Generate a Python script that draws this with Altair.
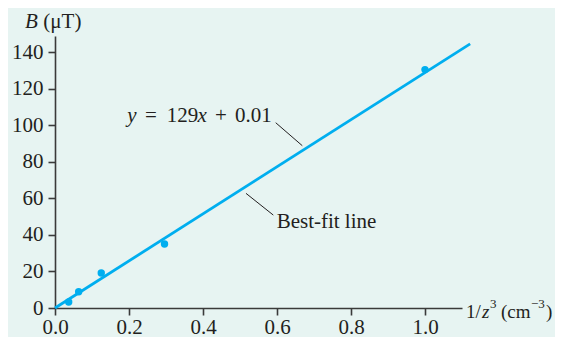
import altair as alt
import pandas as pd

# measured data
inv_z3 = [0.037, 0.064, 0.125, 0.296, 1.0]
b_ut = [3.3, 8.9, 19.2, 35.1, 130.6]

# best-fit line endpoints (y = 129x + 0.01)
fit_x = [0.0, 1.122]
fit_y = [0.01, 144.7]

x_ticks = [0.0, 0.2, 0.4, 0.6, 0.8, 1.0]
y_ticks = [0, 20, 40, 60, 80, 100, 120, 140]

# annotation tokens (data coordinates)
eq_text = ["y", "=", "129", "x", "+", "0.01"]
eq_x = [0.1954, 0.2432, 0.3019, 0.385, 0.4324, 0.4865]
eq_italic = [True, False, False, True, False, False]
eq_y = 102.1

bf_text = ["Best-fit line"]
bf_x = [0.599]
bf_y = 43.7

yt_text = ["B", "(μT)"]
yt_x = [-0.0811, -0.0316]
yt_italic = [True, False]
yt_y = 153.2

xt_text = ["1/", "z", "(cm", ")"]
xt_x = [1.1108, 1.154, 1.2054, 1.327]
xt_italic = [False, True, False, False]
xt_y = -5.64

sup_text = ["3", "−3"]
sup_x = [1.1757, 1.2865]
sup_y = 0.0

lead_x = [0.5965, 0.5162]
lead_x2 = [0.6684, 0.59]
lead_y = [101.5, 62.8]
lead_y2 = [88.9, 50.9]

BLUE = "#00AEEF"
TEXT = "#231F20"
AXIS = "#3A3A3A"
FONT = "Liberation Serif"

xs = alt.Scale(domain=[0, 1.1], nice=False, zero=False)
ys = alt.Scale(domain=[0, 149], nice=False, zero=False)

X = alt.X("x:Q", scale=xs, axis=alt.Axis(values=x_ticks, format=".1f", title=None,
                                          labelPadding=1, labelOverlap=False, labelFlush=False))
Y = alt.Y("y:Q", scale=ys, axis=alt.Axis(values=y_ticks, title=None,
                                          labelPadding=5, labelOverlap=False, labelFlush=False))

pts = pd.DataFrame({"x": inv_z3, "y": b_ut})
fit = pd.DataFrame({"x": fit_x, "y": fit_y})

line = alt.Chart(fit).mark_line(color=BLUE, strokeWidth=2.8, clip=False).encode(x=X, y=Y)
dots = alt.Chart(pts).mark_circle(color=BLUE, size=55, opacity=1).encode(x=X, y=Y)

eq_df = pd.DataFrame({"x": eq_x, "t": eq_text, "it": eq_italic, "y": eq_y})
yt_df = pd.DataFrame({"x": yt_x, "t": yt_text, "it": yt_italic, "y": yt_y})
xt_df = pd.DataFrame({"x": xt_x, "t": xt_text, "it": xt_italic, "y": xt_y})
bf_df = pd.DataFrame({"x": bf_x, "t": bf_text, "it": [False], "y": bf_y})
tok = pd.concat([eq_df, yt_df, bf_df], ignore_index=True)

def text_layer(df, style, size=21):
    return alt.Chart(df).mark_text(
        align="left", baseline="alphabetic", font=FONT, fontSize=size,
        fontStyle=style, color=TEXT
    ).encode(x=X, y=Y, text="t:N")

t_norm = text_layer(tok[~tok["it"]], "normal")
t_ital = text_layer(tok[tok["it"]], "italic")
x_norm = text_layer(xt_df[~xt_df["it"]], "normal", 19)
x_ital = text_layer(xt_df[xt_df["it"]], "italic", 19)

sup_df = pd.DataFrame({"x": sup_x, "t": sup_text, "y": sup_y})
t_sup = alt.Chart(sup_df).mark_text(
    align="left", baseline="alphabetic", font=FONT, fontSize=13, color=TEXT
).encode(x=X, y=Y, text="t:N")

lead_df = pd.DataFrame({"x": lead_x, "x2": lead_x2, "y": lead_y, "y2": lead_y2})
leads = alt.Chart(lead_df).mark_rule(color=TEXT, strokeWidth=1).encode(
    x=X, x2="x2:Q", y=Y, y2="y2:Q"
)

chart = alt.layer(line, dots, leads, t_norm, t_ital, x_norm, x_ital, t_sup).properties(
    width=407, height=272,
    autosize=alt.AutoSizeParams(type="none"),
    padding={"left": 47, "top": 28, "right": 93, "bottom": 29},
    background="#E7F4F2",
).configure_view(stroke=None).configure_axis(
    grid=False,
    domainColor=AXIS, domainWidth=1.6,
    tickColor=AXIS, tickWidth=1.6, tickSize=7,
    labelFont=FONT, labelFontSize=21, labelColor=TEXT,
    labelOverlap=False, labelFlush=False,
)

chart.save("out.html", embed_options={"renderer": "svg", "actions": False})
